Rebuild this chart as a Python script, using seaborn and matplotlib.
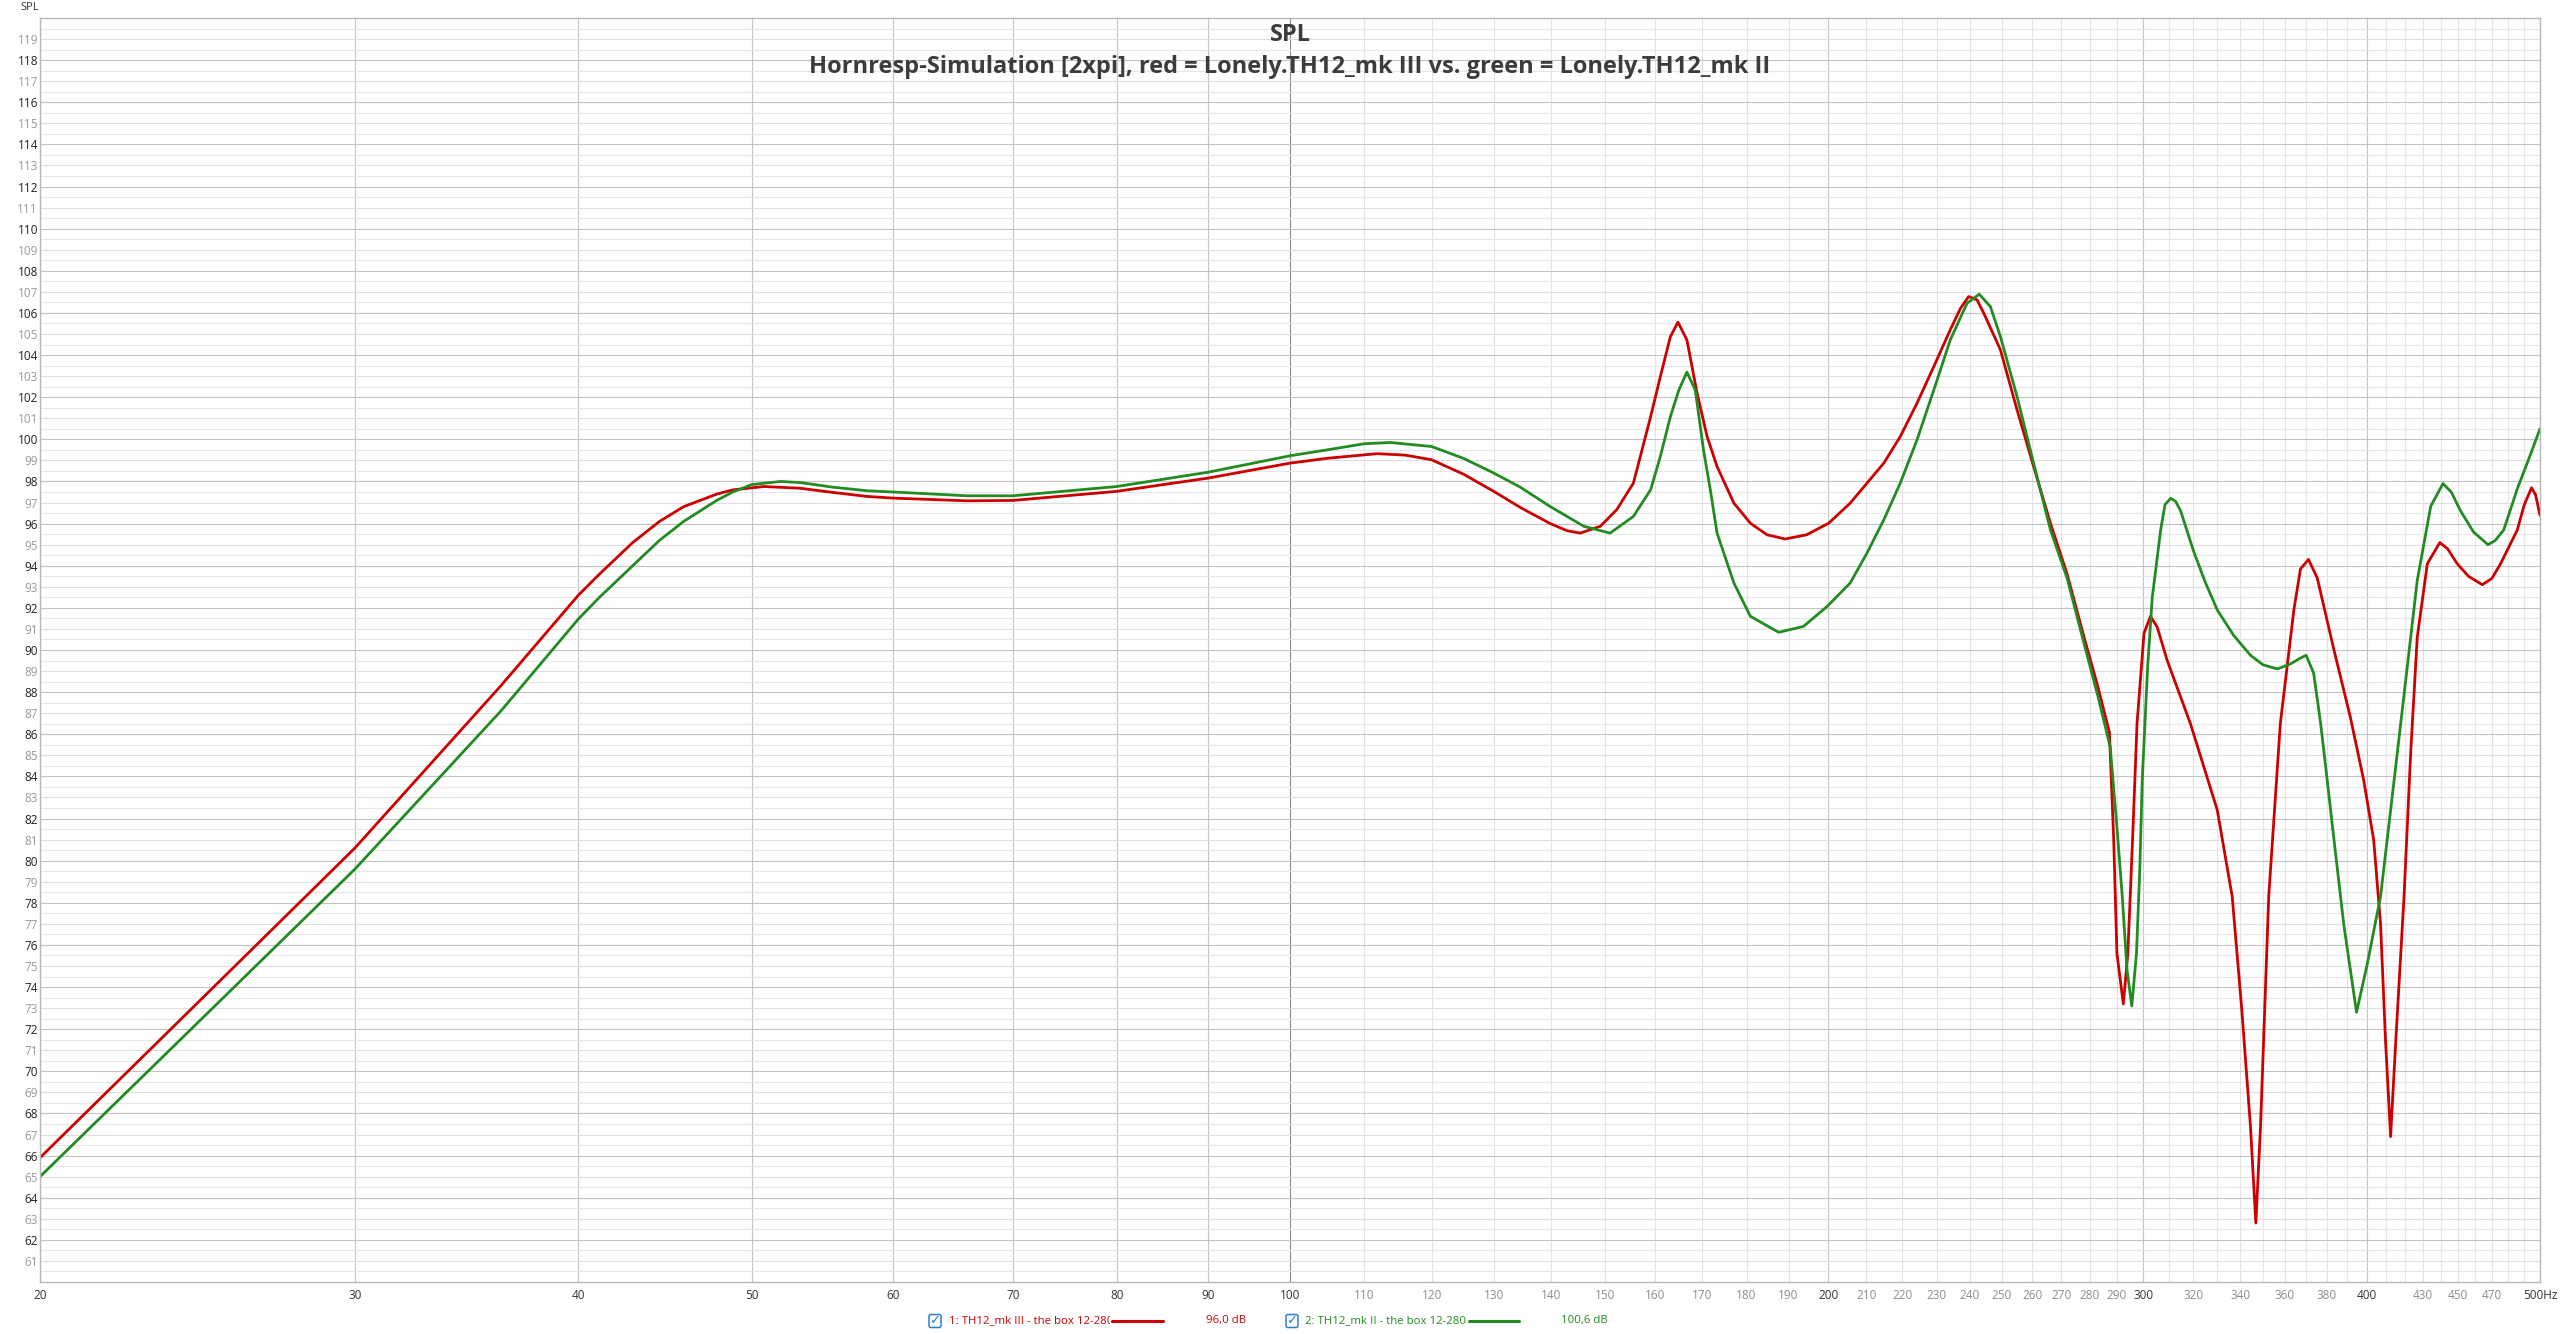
import numpy as np
import pandas as pd
import matplotlib
matplotlib.use('Agg')
import matplotlib.pyplot as plt
import matplotlib.ticker as mticker
import seaborn as sns
from matplotlib.patches import FancyBboxPatch
from matplotlib.lines import Line2D
from matplotlib.transforms import Bbox

# courbe rouge : TH12_mk III
freq_mk3 = [20, 24.6, 30, 36.2, 40, 41.1, 42.9, 44.4, 45.8, 47.8, 48.8, 50.8, 53.2, 55.5, 58,
            60, 66, 70, 80, 90, 100, 104.9, 111.9, 116, 120, 125, 130, 134.5, 139.8, 142.9,
            145.3, 149.1, 152.3, 155.6, 157.0, 159.1, 161.1, 163.2, 164.8, 166.7, 168.9, 171.1,
            173.3, 177.1, 180.9, 184.8, 189.2, 194.5, 200.1, 205.7, 210.2, 214.8, 219.4, 224.2,
            229.1, 234.0, 237.1, 239.6, 242.2, 244.3, 249.6, 255.0, 260.5, 266.2, 272.0, 278.0,
            282.7, 287.2, 288.8, 290.0, 292.4, 294.1, 295.9, 297.6, 300.3, 302.8, 305.4, 309.4,
            318.8, 330, 336.4, 340.6, 344.4, 346.8, 348.9, 352.6, 357.9, 364.2, 367.3, 371.1,
            375.3, 383.5, 391.7, 398.5, 403.6, 407.2, 409.8, 412.5, 415.3, 419.7, 423.3, 426.9,
            432.5, 439.5, 444, 449.4, 456, 464.2, 470, 475.3, 485.6, 490, 494.6, 497.1, 500]
spl_mk3 = [65.9, 73.4, 80.6, 88.3, 92.6, 93.6, 95.1, 96.1, 96.8, 97.4, 97.6, 97.76, 97.68,
           97.48, 97.29, 97.21, 97.08, 97.1, 97.53, 98.16, 98.87, 99.1, 99.32, 99.25, 99.03,
           98.35, 97.53, 96.77, 96.0, 95.66, 95.55, 95.87, 96.66, 97.92, 99.19, 101.08, 102.98,
           104.88, 105.56, 104.72, 102.19, 100.13, 98.71, 96.97, 96.02, 95.47, 95.27, 95.47,
           96.02, 96.97, 97.92, 98.87, 100.13, 101.72, 103.46, 105.2, 106.22, 106.78, 106.62,
           105.99, 104.25, 101.4, 98.71, 96.02, 93.6, 90.6, 88.39, 86.1, 81.0, 75.6, 73.2, 75.6,
           81.0, 86.5, 90.8, 91.6, 91.1, 89.5, 86.5, 82.4, 78.3, 72.9, 67.4, 62.8, 67.4, 78.3,
           86.5, 91.9, 93.84, 94.3, 93.43, 90.0, 86.8, 83.8, 81.0, 77.0, 71.5, 66.9, 71.5, 78.3,
           85.1, 90.6, 94.1, 95.1, 94.8, 94.1, 93.5, 93.1, 93.4, 94.1, 95.7, 96.9, 97.7, 97.38,
           96.4]

# courbe verte : TH12_mk II
freq_mk2 = [20, 24.6, 30, 36.2, 40, 41.1, 42.9, 44.4, 45.8, 47.8, 48.8, 50, 51.9, 53.2, 55.5,
            58, 60, 66, 70, 80, 90, 100, 104.9, 110, 113.8, 120, 125, 130, 134.5, 139.8, 146.0,
            151.0, 155.6, 159.1, 161.1, 163.2, 165.0, 166.7, 168.5, 170.3, 171.8, 173.3, 177.1,
            180.9, 187.6, 193.7, 199.7, 205.7, 210.2, 214.8, 219.4, 224.2, 229.1, 234.0, 239.1,
            242.9, 246.4, 249.6, 255.0, 260.5, 266.2, 272.0, 278.0, 283, 287.5, 290.0, 292.0,
            293.8, 295.6, 297.4, 298.7, 299.6, 301.7, 303.5, 306.8, 308.5, 310.8, 312.8, 314.8,
            320.2, 325, 330, 337, 344.4, 350, 356.5, 362.6, 367, 370.0, 373.6, 377, 380.2, 383.5,
            388.4, 394.8, 400.2, 407.2, 417.9, 426.9, 434.4, 441.3, 446, 451.4, 459, 467.6, 472,
            477.2, 485.6, 494.0, 500]
spl_mk2 = [65.0, 72.45, 79.6, 87.1, 91.47, 92.5, 94.0, 95.2, 96.1, 97.1, 97.5, 97.85, 98.0,
           97.95, 97.73, 97.56, 97.5, 97.32, 97.32, 97.76, 98.44, 99.22, 99.5, 99.79, 99.85,
           99.66, 99.1, 98.4, 97.73, 96.81, 95.87, 95.55, 96.34, 97.61, 99.19, 101.08, 102.35,
           103.19, 102.35, 99.5, 97.61, 95.55, 93.18, 91.6, 90.84, 91.12, 92.07, 93.18, 94.6,
           96.18, 97.92, 99.98, 102.35, 104.72, 106.46, 106.89, 106.3, 104.88, 102.03, 98.87,
           95.71, 93.4, 90.3, 87.8, 85.4, 81.6, 78.3, 74.8, 73.1, 75.6, 79.7, 83.8, 89.2, 92.5,
           95.7, 96.9, 97.2, 97.05, 96.6, 94.65, 93.2, 91.9, 90.7, 89.75, 89.3, 89.1, 89.34,
           89.6, 89.75, 88.9, 86.5, 83.8, 81.0, 76.95, 72.8, 75.05, 78.3, 86.5, 93.3, 96.83,
           97.9, 97.5, 96.6, 95.6, 95.0, 95.2, 95.7, 97.65, 99.3, 100.5]

# axes
x_ticks = [20, 30, 40, 50, 60, 70, 80, 90, 100, 110, 120, 130, 140, 150, 160, 170, 180, 190,
           200, 210, 220, 230, 240, 250, 260, 270, 280, 290, 300, 320, 340, 360, 380, 400,
           430, 450, 470, 500]
x_labels = [str(f) for f in x_ticks[:-1]] + ['500Hz']
x_ticks_dark = [20, 30, 40, 50, 60, 70, 80, 90, 100, 200, 300, 400, 500]
x_minor = [310, 330, 350, 370, 390, 410, 420, 440, 460, 480, 490]
y_ticks = list(range(61, 120))

courbes = ['mk III', 'mk II']
couleurs = ['#cc0000', '#228b22']
legende_textes = ['1: TH12_mk III - the box 12-280', '2: TH12_mk II - the box 12-280']
legende_valeurs = ['96,0 dB', '100,6 dB']
titre = 'SPL'
sous_titre = 'Hornresp-Simulation [2xpi], red = Lonely.TH12_mk III vs. green = Lonely.TH12_mk II'

df = pd.concat([
    pd.DataFrame({'freq': freq_mk3, 'spl': spl_mk3, 'courbe': courbes[0]}),
    pd.DataFrame({'freq': freq_mk2, 'spl': spl_mk2, 'courbe': courbes[1]}),
])

sns.set_style('white')
plt.rcParams['font.family'] = ['Open Sans', 'DejaVu Sans']

W, H = 2560, 1334
fig = plt.figure(figsize=(W / 100, H / 100), dpi=100)
ax = fig.add_axes([40 / W, 52 / H, 2500 / W, 1264 / H])

sns.lineplot(data=df, x='freq', y='spl', hue='courbe', palette=dict(zip(courbes, couleurs)),
             estimator=None, linewidth=2.0, legend=False, ax=ax)

ax.set_xscale('log')
ax.set_xlim(20, 500)
ax.set_ylim(60, 120)
ax.set_xlabel('')
ax.set_ylabel('')
ax.set_axisbelow(True)

ax.set_xticks(x_ticks, x_labels)
ax.set_xticks(x_minor, minor=True)
ax.xaxis.set_minor_formatter(mticker.NullFormatter())
ax.set_yticks(y_ticks, [str(v) for v in y_ticks])
ax.set_yticks(np.arange(60.5, 120, 1.0), minor=True)

ax.grid(True, which='major', linewidth=0.8)
ax.grid(True, which='minor', linewidth=0.8, color='#e6e6e6')
ax.tick_params(which='both', length=0)
ax.tick_params(axis='x', labelsize=8.5, pad=5)
ax.tick_params(axis='y', labelsize=8.5, pad=1.5)

# couleurs des grilles et des étiquettes
for tick, f in zip(ax.xaxis.get_major_ticks(), x_ticks):
    if f == 100:
        tick.gridline.set_color('#8a8a8a')
    elif f in x_ticks_dark:
        tick.gridline.set_color('#c6c6c6')
    else:
        tick.gridline.set_color('#e2e2e2')
    tick.label1.set_color('#333333' if f in x_ticks_dark else '#8c8c8c')

for tick, v in zip(ax.yaxis.get_major_ticks(), y_ticks):
    if v % 2 == 0:
        tick.gridline.set_color('#c2c2c2')
        tick.label1.set_color('#222222')
    else:
        tick.gridline.set_color('#dedede')
        tick.label1.set_color('#999999')

for s in ax.spines.values():
    s.set_color('#b8b8b8')
    s.set_linewidth(1.0)

# titres
fig.text(1290 / W, 1 - 35 / H, titre, ha='center', va='center', fontsize=17,
         fontweight='bold', color='#3c3c3c')
fig.text(1290 / W, 1 - 67 / H, sous_titre, ha='center', va='center', fontsize=17,
         fontweight='bold', color='#3c3c3c')
fig.text(20 / W, 1 - 8 / H, 'SPL', ha='left', va='center', fontsize=8, color='#333333')

# légende faite à la main
inch = fig.dpi_scale_trans
y_leg = (H - 1321) / 100
positions = [(935, 949, 1112, 1163, 1206), (1292, 1305, 1469, 1519, 1561)]
for i, (cb, tx, l0, l1, vx) in enumerate(positions):
    boite = FancyBboxPatch(((cb - 6) / 100, y_leg - 0.065), 0.12, 0.13,
                           boxstyle='round,pad=0,rounding_size=0.02', transform=inch,
                           fc='white', ec='#2a7ad8', lw=1.1)
    fig.add_artist(boite)
    fig.text(cb / 100, y_leg, '\u2713', transform=inch, ha='center', va='center',
             fontsize=9.5, color='#2a7ad8', family=['DejaVu Sans'])
    t = fig.text(tx / 100, y_leg, legende_textes[i], transform=inch, ha='left',
                 va='center', fontsize=8.2, color=couleurs[i])
    t.set_clip_box(Bbox.from_extents(0, 0, l0 - 2, H))
    t.set_clip_on(True)
    fig.add_artist(Line2D([l0 / 100, l1 / 100], [y_leg, y_leg], transform=inch,
                          color=couleurs[i], lw=2.2))
    fig.text(vx / 100, y_leg, legende_valeurs[i], transform=inch, ha='left',
             va='center', fontsize=8.2, color=couleurs[i])

fig.savefig('out.png', dpi=100)
